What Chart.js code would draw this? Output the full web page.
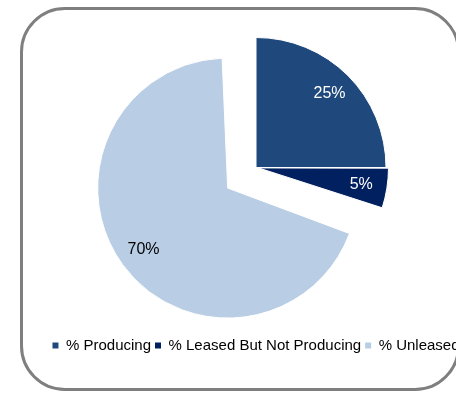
<!DOCTYPE html>
<html>
<head>
<meta charset="utf-8">
<script src="https://cdn.jsdelivr.net/npm/chart.js@4.4.1/dist/chart.umd.min.js"></script>
<style>
  html, body { margin: 0; padding: 0; background: #fff; overflow: hidden; }
  body { width: 456px; height: 394px; position: relative; }
  #frame {
    position: absolute; left: 20px; top: 7px; width: 440px; height: 384px;
    box-sizing: border-box; border: 3px solid #7f7f7f; border-radius: 45px;
  }
  #wrap { position: absolute; left: 2px; top: 0; width: 512px; height: 394px; }
</style>
</head>
<body>
<div id="frame"></div>
<div id="wrap"><canvas id="pie" width="512" height="394"></canvas></div>
<script>
// Data
const categories = ["% Producing", "% Leased But Not Producing", "% Unleased"];
const shares = [25, 5, 70];

const sliceColors = ["#1F497D", "#002060", "#B9CDE5"];
const labelColors = ["#ffffff", "#ffffff", "#000000"];
const FONT = "Arial, 'Liberation Sans', sans-serif";

// Chart.js grows the radius of an offset slice when it is wide; Excel only
// slides it out. Take that growth back so every slice keeps the same radius.
function radiusGrowth(arc) {
  const off = (arc.options.offset || 0) / 4;
  const fix = 1 - Math.sin(Math.min(Math.PI, arc.circumference || 0));
  return off * fix;
}

const explodeFix = {
  id: "explodeFix",
  afterUpdate(chart) {
    chart.getDatasetMeta(0).data.forEach((arc) => {
      arc.outerRadius -= radiusGrowth(arc);
    });
  }
};

// Draws the percentage inside each slice, following the slice's own offset
const sliceLabels = {
  id: "sliceLabels",
  afterDatasetsDraw(chart) {
    const ctx = chart.ctx;
    const meta = chart.getDatasetMeta(0);
    ctx.save();
    ctx.font = "16px " + FONT;
    ctx.textAlign = "center";
    ctx.textBaseline = "middle";
    meta.data.forEach((arc, i) => {
      const mid = (arc.startAngle + arc.endAngle) / 2;
      const shift = (arc.options.offset || 0) / 4;
      const r = arc.outerRadius + radiusGrowth(arc);
      const dist = r * 0.8 + shift;
      ctx.fillStyle = labelColors[i];
      ctx.fillText(shares[i] + "%", arc.x + Math.cos(mid) * dist, arc.y + Math.sin(mid) * dist);
    });
    ctx.restore();
  }
};

const baseLabels = Chart.overrides.doughnut.plugins.legend.labels.generateLabels;

new Chart(document.getElementById("pie"), {
  type: "pie",
  data: {
    labels: categories,
    datasets: [{
      data: shares,
      backgroundColor: sliceColors,
      borderColor: "#ffffff",
      borderWidth: 1,
      offset: [0, 10, 140]
    }]
  },
  options: {
    responsive: false,
    animation: false,
    events: [],
    radius: 130,
    layout: { padding: { top: 1, bottom: 31, left: 0, right: 4 } },
    plugins: {
      tooltip: { enabled: false },
      legend: {
        position: "bottom",
        labels: {
          boxWidth: 6,
          boxHeight: 6,
          padding: 4,
          color: "#000000",
          font: { size: 15, family: FONT },
          generateLabels: (chart) => baseLabels(chart).map((item) => {
            item.lineWidth = 0;
            return item;
          })
        }
      }
    }
  },
  plugins: [explodeFix, sliceLabels]
});
</script>
</body>
</html>
